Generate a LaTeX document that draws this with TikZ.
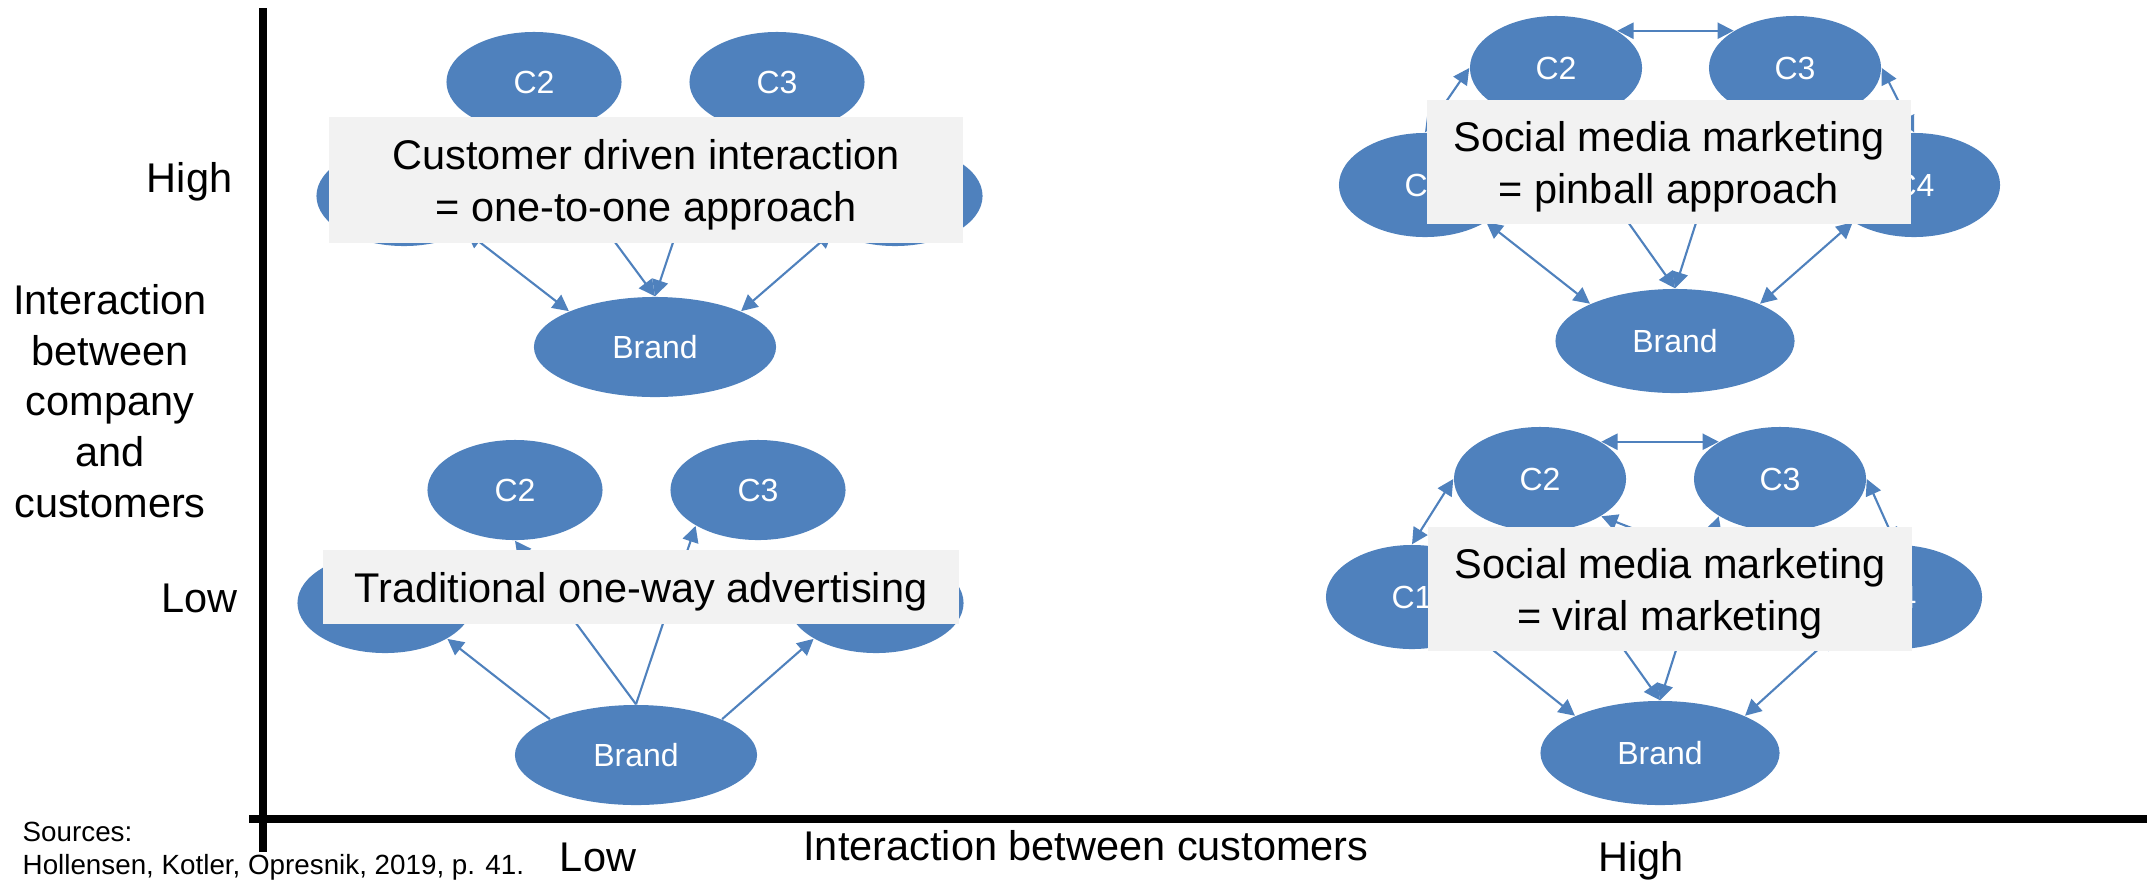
\documentclass[tikz,border=0pt]{standalone}
\usepackage{fontspec}
\setmainfont{Liberation Sans}
\usetikzlibrary{arrows.meta,shapes,positioning,calc}

\definecolor{nodeblue}{RGB}{79,129,189}
\definecolor{boxgray}{RGB}{242,242,242}

\tikzset{
  cust/.style={ellipse, fill=nodeblue, inner sep=0pt, minimum width=1.75cm,
    minimum height=1cm, text=white, font=\fontsize{9.1}{11}\selectfont},
  custr/.style={cust, minimum width=1.72cm, minimum height=1.04cm},
  brand/.style={cust, minimum width=2.42cm},
  brandr/.style={custr, minimum width=2.39cm},
  labelbox/.style={fill=boxgray, inner sep=0pt, align=center, text depth=0pt,
    font=\fontsize{11.8}{14.8}\selectfont},
  link/.style={draw=nodeblue, line width=0.6pt},
  axis/.style={line width=2.3pt},
  big/.style={inner sep=0pt, font=\fontsize{11.8}{14.4}\selectfont},
}

\begin{document}
\begin{tikzpicture}[x=0.01cm, y=-0.01cm, >={Triangle[length=4.6pt,width=4.6pt]}]
  \useasboundingbox (0,0) rectangle (2152,881);

  % Axes
  \coordinate (yTop) at (263,8);
  \coordinate (yBot) at (263,852);
  \coordinate (xLeft) at (249,819);
  \coordinate (xRight) at (2147,819);
  \draw[axis] (yTop) -- (yBot);
  \draw[axis] (xLeft) -- (xRight);

  % Axis labels
  \node[big, anchor=base east] (yHigh) at (233,192) {High};
  \node[big, anchor=base east] (yLow) at (238,612) {Low};
  \node[big, align=center] (yTitle) at (110,401) {Interaction\\between\\company\\and\\customers};
  \node[big, anchor=base] (xLow) at (598,871) {Low};
  \node[big, anchor=base] (xTitle) at (1086,860) {Interaction between customers};
  \node[big, anchor=base] (xHigh) at (1641,871) {High};
  \node[inner sep=0pt, align=left, anchor=south west,
    font=\fontsize{7.9}{9.4}\selectfont] (src) at (22,881)
    {Sources:\\Hollensen, Kotler, Opresnik, 2019, p. 41.};

  % One-to-one (top left)
  \node[cust] (oC1) at (404,196) {};
  \node[cust] (oC2) at (534,82) {C2};
  \node[cust] (oC3) at (777,82) {C3};
  \node[cust] (oC4) at (895,196) {};
  \node[brand] (oB) at (655,347) {Brand};
  \draw[link,<->] (oC1.south east) -- (oB.north west);
  \draw[link,<->] (oC4.south west) -- (oB.north east);
  \draw[link,<->] (oC2.south) -- (oB.north);
  \draw[link,<->] (oC3.south west) -- (oB.north);

  % Pinball (top right)
  \node[custr] (pC1) at (1425,185) {C1};
  \node[custr] (pC2) at (1556,68) {C2};
  \node[custr] (pC3) at (1795,68) {C3};
  \node[custr] (pC4) at (1914,185) {C4};
  \node[brandr] (pB) at (1675,341) {Brand};
  \draw[link,<->] (pC1.north) -- (pC2.west);
  \draw[link,<->] (pC2.north east) -- (pC3.north west);
  \draw[link,<->] (pC3.east) -- (pC4.north);
  \draw[link,<->] (pC1.south east) -- (pB.north west);
  \draw[link,<->] (pC4.south west) -- (pB.north east);
  \draw[link,<->] (pC2.south) -- (pB.north);
  \draw[link,<->] (pC3.south west) -- (pB.north);

  % Traditional (bottom left)
  \node[cust] (tC1) at (385,603) {};
  \node[cust] (tC2) at (515,490) {C2};
  \node[cust] (tC3) at (758,490) {C3};
  \node[cust] (tC4) at (876,603) {};
  \node[brand] (tB) at (636,755) {Brand};
  \draw[link,->] (tB.north west) -- (tC1.south east);
  \draw[link,->] (tB.north east) -- (tC4.south west);
  \draw[link,->] (tB.north) -- (tC2.south);
  \draw[link,->] (tB.north) -- (tC3.south west);

  % Viral (bottom right)
  \node[custr] (vC1) at (1412,597) {C1};
  \node[custr] (vC2) at (1540,479) {C2};
  \node[custr] (vC3) at (1780,479) {C3};
  \node[custr] (vC4) at (1896,597) {C4};
  \node[brandr] (vB) at (1660,753) {Brand};
  \draw[link,<->] (vC1.north) -- (vC2.west);
  \draw[link,<->] (vC2.north east) -- (vC3.north west);
  \draw[link,<->] (vC3.east) -- (vC4.north);
  \draw[link,<->] (vC2.south east) -- (vC4.west);
  \draw[link,<->] (vC1.south east) -- (vB.north west);
  \draw[link,<->] (vC4.south west) -- (vB.north east);
  \draw[link,<->] (vC2.south) -- (vB.north);
  \draw[link,<->] (vC3.south west) -- (vB.north);

  % Label boxes
  \node[labelbox, minimum width=6.34cm, minimum height=1.25cm] (oBox) at (646,180)
    {Customer driven interaction\\= one-to-one approach};
  \node[labelbox, minimum width=4.84cm, minimum height=1.24cm] (pBox) at (1669,162)
    {Social media marketing\\= pinball approach};
  \node[labelbox, minimum width=6.35cm, minimum height=0.74cm] (tBox) at (641,587)
    {Traditional one-way advertising};
  \node[labelbox, minimum width=4.83cm, minimum height=1.24cm] (vBox) at (1670,589)
    {Social media marketing\\= viral marketing};
\end{tikzpicture}
\end{document}
